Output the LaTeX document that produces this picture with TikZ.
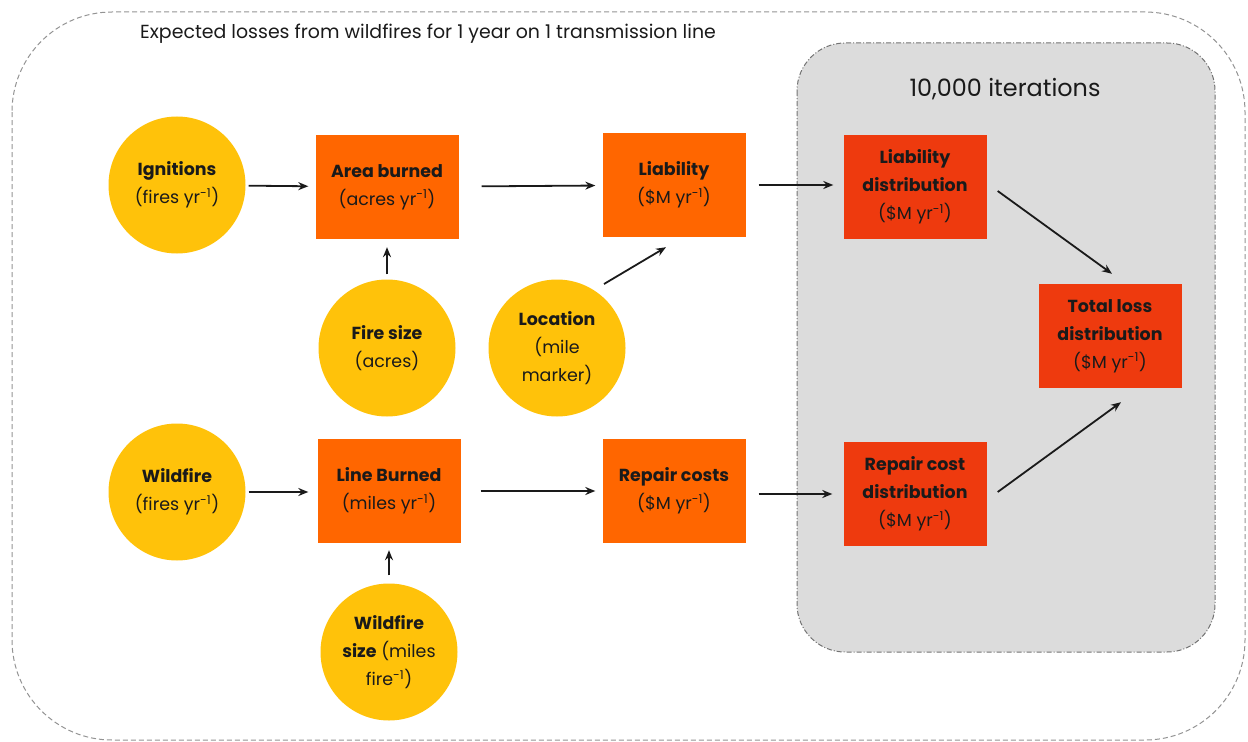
\documentclass[tikz,border=0pt]{standalone}
\usepackage{fontspec}
\setmainfont{Poppins}
\usetikzlibrary{arrows.meta,calc}
\definecolor{cyellow}{HTML}{FFC20A}
\definecolor{corange}{HTML}{FF6600}
\definecolor{cred}{HTML}{EE3A0E}
\definecolor{cgray}{HTML}{DCDCDC}
\definecolor{ctext}{HTML}{1A1A1A}
\begin{document}
\begin{tikzpicture}[x=1bp,y=-1bp,
  every node/.style={text=ctext},
  lbl/.style={font=\fontsize{17.5}{28}\selectfont, align=center, inner sep=0pt},
  circ/.style={lbl, circle, fill=cyellow, minimum size=137bp},
  obox/.style={lbl, rectangle, fill=corange, minimum width=143bp, minimum height=104bp},
  rbox/.style={lbl, rectangle, fill=cred, minimum width=143bp, minimum height=104bp},
  arr/.style={line width=1.8bp, draw=ctext, -{Stealth[length=10bp,width=8bp]}}
]
\useasboundingbox (0,0) rectangle (1248,742);
% outer frame
\draw[gray!85, line width=1bp, dash pattern=on 5bp off 3bp, rounded corners=100bp]
  (12,12) rectangle (1245,740);
\node[font=\fontsize{19}{21}\selectfont, anchor=west, inner sep=0pt] (title) at (140,34)
  {Expected losses from wildfires for 1 year on 1 transmission line};
% gray iteration box
\draw[fill=cgray, draw=gray!90!black, line width=1bp, dash pattern=on 5bp off 2bp on 1bp off 2bp, rounded corners=48bp]
  (797,43) rectangle (1215,652);
\node[font=\fontsize{24}{26}\selectfont, inner sep=0pt] (iter) at (1005,89) {10,000 iterations};

% nodes
\node[circ] (ign) at (177,185) {\textbf{Ignitions}\\(fires yr\textsuperscript{-1})};
\node[obox] (area) at (387,187) {\textbf{Area burned}\\(acres yr\textsuperscript{-1})};
\node[obox] (liab) at (674,185) {\textbf{Liability}\\(\$M yr\textsuperscript{-1})};
\node[rbox] (ld) at (915,187) {\textbf{Liability}\\\textbf{distribution}\\(\$M yr\textsuperscript{-1})};
\node[circ] (fs) at (387,348) {\textbf{Fire size}\\(acres)};
\node[circ] (loc) at (557,348) {\textbf{Location}\\(mile\\marker)};
\node[rbox] (tot) at (1110,336) {\textbf{Total loss}\\\textbf{distribution}\\(\$M yr\textsuperscript{-1})};
\node[circ] (wf) at (177,492) {\textbf{Wildfire}\\(fires yr\textsuperscript{-1})};
\node[obox] (line) at (389,491) {\textbf{Line Burned}\\(miles yr\textsuperscript{-1})};
\node[obox] (rep) at (674,491) {\textbf{Repair costs}\\(\$M yr\textsuperscript{-1})};
\node[rbox] (rd) at (915,494) {\textbf{Repair cost}\\\textbf{distribution}\\(\$M yr\textsuperscript{-1})};
\node[circ] (wfs) at (389,652) {\textbf{Wildfire}\\\textbf{size} (miles\\fire\textsuperscript{-1})};

% connectors
\draw[arr, shorten <=3bp, shorten >=7bp] (ign) -- (area);
\draw[arr, shorten <=23bp, shorten >=7bp] (area) -- (liab);
\draw[arr, shorten <=13bp, shorten >=10bp] (liab.east) -- (liab.east -| ld.west);
\draw[arr, shorten <=5bp, shorten >=8bp] (fs) -- (area);
\draw[arr] ($(loc.center)+(47,-64)$) -- ($(liab.south)+(-8,10)$);
\draw[arr, shorten <=3bp, shorten >=9bp] (wf.east) -- (wf.east -| line.west);
\draw[arr, shorten <=20bp, shorten >=7bp] (line) -- (rep);
\draw[arr, shorten <=13bp, shorten >=11bp] ($(rep.east)+(0,3)$) -- ($(rep.east -| rd.west)+(0,3)$);
\draw[arr, shorten <=8bp, shorten >=7bp] (wfs) -- (line);
\draw[arr] ($(ld.east)+(11,4)$) -- ($(tot.north)+(2,-10)$);
\draw[arr] ($(rd.east)+(11,-2)$) -- ($(tot.south)+(11,14)$);
\end{tikzpicture}
\end{document}
